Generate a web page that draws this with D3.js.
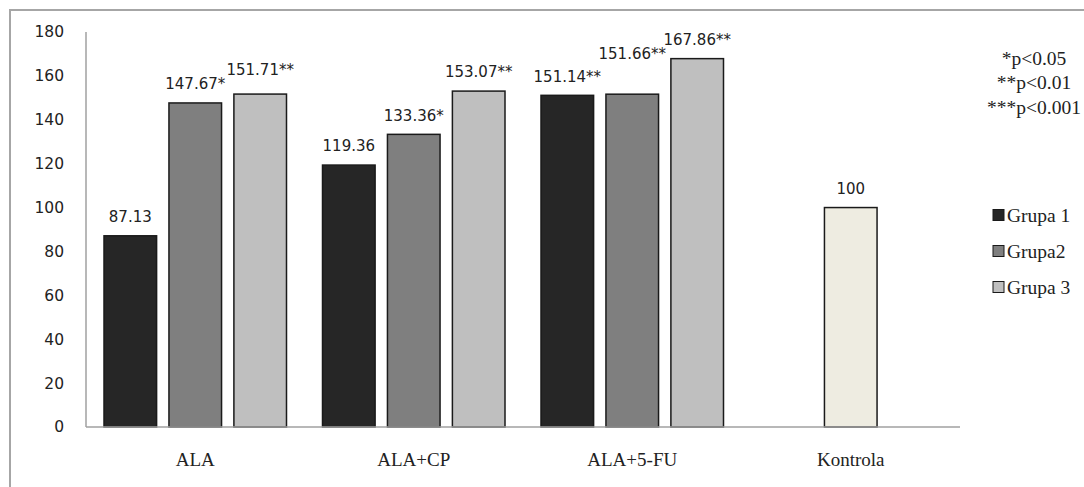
<!DOCTYPE html>
<html>
<head>
<meta charset="utf-8">
<script src="https://cdn.jsdelivr.net/npm/d3@7"></script>
<style>
  body { margin: 0; background: #fff; }
  svg { display: block; }
</style>
</head>
<body>
<div id="chart"></div>
<script>
// data
var categories = ["ALA", "ALA+CP", "ALA+5-FU", "Kontrola"];
var seriesNames = ["Grupa 1", "Grupa2", "Grupa 3"];
var grupa1 = [87.13, 119.36, 151.14, null];
var grupa2 = [147.67, 133.36, 151.66, null];
var grupa3 = [151.71, 153.07, 167.86, null];
var kontrola = [null, null, null, 100];
// significance marks appended to the value labels
var sig1 = ["", "", "**", ""];
var sig2 = ["*", "*", "**", ""];
var sig3 = ["**", "**", "**", ""];
var yTicks = [0, 20, 40, 60, 80, 100, 120, 140, 160, 180];
var pNotes = ["*p<0.05", "**p<0.01", "***p<0.001"];

var colors = ["#262626", "#7f7f7f", "#bfbfbf"];
var controlColor = "#eeece1";

var width = 1084, height = 487;
var margin = {left: 86, right: 124, top: 32, bottom: 60};

var svg = d3.select("#chart").append("svg")
  .attr("width", width)
  .attr("height", height);

// outer frame (cut off at the right and bottom, as in the picture)
svg.append("rect")
  .attr("x", 10).attr("y", 10)
  .attr("width", 1100).attr("height", 520)
  .attr("fill", "none")
  .attr("stroke", "#a6a6a6")
  .attr("stroke-width", 2);

var x0 = d3.scaleBand()
  .domain(categories)
  .range([margin.left, width - margin.right])
  .padding(0);

var x1 = d3.scaleBand()
  .domain(seriesNames)
  .range([18, x0.bandwidth() - 18])
  .paddingInner(0.19)
  .paddingOuter(0);

var y = d3.scaleLinear()
  .domain([0, 180])
  .range([height - margin.bottom, margin.top]);

// y axis line and tick labels (no tick marks)
svg.append("line")
  .attr("x1", margin.left).attr("x2", margin.left)
  .attr("y1", y(180)).attr("y2", y(0))
  .attr("stroke", "#a0a0a0").attr("stroke-width", 1.5);

svg.selectAll(".ytick")
  .data(yTicks)
  .enter().append("text")
  .attr("class", "ytick")
  .attr("x", 64)
  .attr("y", function(d) { return y(d); })
  .attr("dy", "0.35em")
  .attr("text-anchor", "end")
  .style("font-family", "DejaVu Sans, Verdana, sans-serif")
  .style("font-size", "15.5px")
  .style("fill", "#222")
  .text(function(d) { return d; });

// build bar records
var bars = [];
var allSeries = [grupa1, grupa2, grupa3];
var allSig = [sig1, sig2, sig3];
categories.forEach(function(cat, i) {
  allSeries.forEach(function(vals, s) {
    if (vals[i] != null) {
      bars.push({cat: cat, slot: seriesNames[s], value: vals[i],
                 fill: colors[s], label: d3.format(".2f")(vals[i]) + allSig[s][i]});
    }
  });
  if (kontrola[i] != null) {
    bars.push({cat: cat, slot: seriesNames[1], value: kontrola[i],
               fill: controlColor, label: String(kontrola[i])});
  }
});

svg.selectAll(".bar")
  .data(bars)
  .enter().append("rect")
  .attr("class", "bar")
  .attr("x", function(d) { return x0(d.cat) + x1(d.slot); })
  .attr("y", function(d) { return y(d.value); })
  .attr("width", x1.bandwidth())
  .attr("height", function(d) { return y(0) - y(d.value); })
  .attr("fill", function(d) { return d.fill; })
  .attr("stroke", "#1a1a1a")
  .attr("stroke-width", 1.5);

// x axis baseline
svg.append("line")
  .attr("x1", margin.left).attr("x2", width - margin.right)
  .attr("y1", y(0)).attr("y2", y(0))
  .attr("stroke", "#a0a0a0").attr("stroke-width", 1.5);

// value labels; the one over ALA+5-FU / Grupa2 was lifted in the original to clear its neighbours
function labelLift(d) {
  if (d.cat == "ALA+5-FU" && d.slot == "Grupa2") return 40;
  if (d.cat == "ALA" && d.slot == "Grupa 3") return 24;
  return 19;
}
svg.selectAll(".vlabel")
  .data(bars)
  .enter().append("text")
  .attr("class", "vlabel")
  .attr("x", function(d) { return x0(d.cat) + x1(d.slot) + x1.bandwidth() / 2; })
  .attr("y", function(d) { return y(d.value) - labelLift(d); })
  .attr("dy", "0.35em")
  .attr("text-anchor", "middle")
  .style("font-family", "DejaVu Sans, Verdana, sans-serif")
  .style("font-size", "15px")
  .style("fill", "#222")
  .text(function(d) { return d.label; });

// category labels
svg.selectAll(".xlabel")
  .data(categories)
  .enter().append("text")
  .attr("class", "xlabel")
  .attr("x", function(d) { return x0(d) + x0.bandwidth() / 2; })
  .attr("y", y(0) + 32)
  .attr("dy", "0.35em")
  .attr("text-anchor", "middle")
  .style("font-family", "Liberation Serif, Times New Roman, serif")
  .style("font-size", "19px")
  .style("fill", "#222")
  .text(function(d) { return d; });

// significance notes
svg.selectAll(".pnote")
  .data(pNotes)
  .enter().append("text")
  .attr("class", "pnote")
  .attr("x", 1034)
  .attr("y", function(d, i) { return 58 + i * 24.5; })
  .attr("dy", "0.35em")
  .attr("text-anchor", "middle")
  .style("font-family", "Liberation Serif, Times New Roman, serif")
  .style("font-size", "19.5px")
  .style("fill", "#222")
  .text(function(d) { return d; });

// legend
var legend = svg.selectAll(".legend")
  .data(seriesNames)
  .enter().append("g")
  .attr("class", "legend")
  .attr("transform", function(d, i) { return "translate(993," + (215 + i * 36) + ")"; });

legend.append("rect")
  .attr("x", 0).attr("y", -5.5)
  .attr("width", 11).attr("height", 11)
  .attr("fill", function(d, i) { return colors[i]; })
  .attr("stroke", "#1a1a1a")
  .attr("stroke-width", 1);

legend.append("text")
  .attr("x", 14)
  .attr("y", 0)
  .attr("dy", "0.35em")
  .style("font-family", "Liberation Serif, Times New Roman, serif")
  .style("font-size", "19.5px")
  .style("fill", "#222")
  .text(function(d) { return d; });
</script>
</body>
</html>
